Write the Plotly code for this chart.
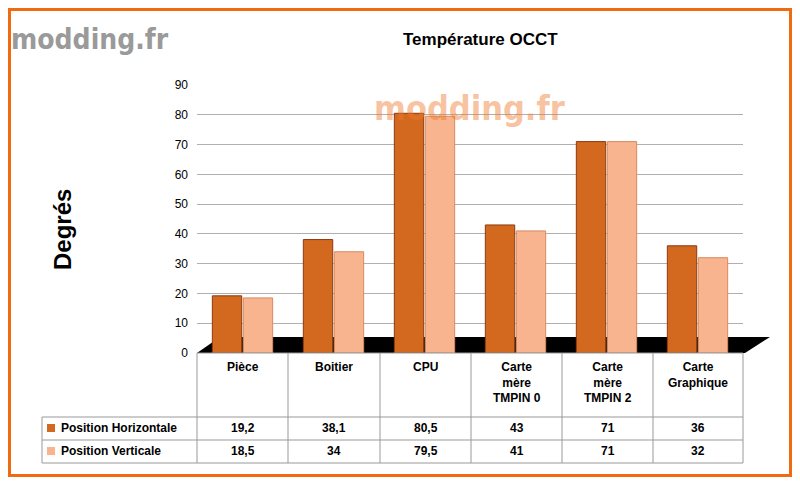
import plotly.graph_objects as go

categories = ["Pièce", "Boitier", "CPU", "Carte<br>mère<br>TMPIN 0", "Carte<br>mère<br>TMPIN 2", "Carte<br>Graphique"]
horizontale = [19.2, 38.1, 80.5, 43, 71, 36]
verticale = [18.5, 34, 79.5, 41, 71, 32]
horizontale_txt = ["19,2", "38,1", "80,5", "43", "71", "36"]
verticale_txt = ["18,5", "34", "79,5", "41", "71", "32"]
series_names = ["Position Horizontale", "Position Verticale"]
colors = ["#D2691E", "#F7B48E"]

# page body adds an 8px margin, so work in a figure shifted by 8px
OFF = 8
W, H = 800 - OFF * 2, 485 - OFF * 2
L, R, T, B = 197 - OFF, 743 - OFF, 85 - OFF, 353 - OFF

def px(x):
    return (x - OFF - L) / (R - L)

def py(y):
    return (B - (y - OFF)) / (B - T)

fig = go.Figure()
for name, vals, col, edge in zip(series_names, [horizontale, verticale], colors, ["#8B3A10", "#D98A60"]):
    fig.add_trace(go.Bar(x=categories, y=vals, name=name, showlegend=False,
                         marker=dict(color=col, line=dict(color=edge, width=1))))

shapes = []
shapes.append(dict(type="path", xref="paper", yref="paper",
                   path=f"M {px(197)},{py(353)} L {px(745)},{py(353)} L {px(770)},{py(337)} L {px(220)},{py(337)} Z",
                   fillcolor="black", line=dict(width=0), layer="below"))
for y in [353, 417, 440, 463]:
    x0 = 197 if y == 353 else 42
    shapes.append(dict(type="line", xref="paper", yref="paper", x0=px(x0), x1=px(743), y0=py(y), y1=py(y),
                       line=dict(color="#999999", width=1)))
for x in [197, 288, 380, 471, 562, 653, 743]:
    shapes.append(dict(type="line", xref="paper", yref="paper", x0=px(x), x1=px(x), y0=py(353), y1=py(463),
                       line=dict(color="#999999", width=1)))
shapes.append(dict(type="line", xref="paper", yref="paper", x0=px(42), x1=px(42), y0=py(417), y1=py(463),
                   line=dict(color="#999999", width=1)))
for i, col in enumerate(colors):
    yc = 428 + i * 23
    shapes.append(dict(type="rect", xref="paper", yref="paper", x0=px(47), x1=px(55), y0=py(yc - 4), y1=py(yc + 4),
                       fillcolor=col, line=dict(width=0)))
shapes.append(dict(type="rect", xref="paper", yref="paper", x0=px(9), x1=px(791), y0=py(9), y1=py(476),
                   line=dict(color="#F26A10", width=4)))

ann = []
centers = [242.5, 334, 425.5, 516.5, 607.5, 698]
for c, cat in zip(centers, categories):
    ann.append(dict(x=px(c), y=py(358), xref="paper", yref="paper", text=f"<b>{cat}</b>", showarrow=False,
                    xanchor="center", yanchor="top", font=dict(size=12, color="black")))
for i, (name, txts) in enumerate(zip(series_names, [horizontale_txt, verticale_txt])):
    yc = 428 + i * 23
    ann.append(dict(x=px(59), y=py(yc), xref="paper", yref="paper", text=f"<b>{name}</b>", showarrow=False,
                    xanchor="left", yanchor="middle", font=dict(size=12, color="black")))
    for c, t in zip(centers, txts):
        ann.append(dict(x=px(c), y=py(yc), xref="paper", yref="paper", text=f"<b>{t}</b>", showarrow=False,
                        xanchor="center", yanchor="middle", font=dict(size=12, color="black")))
ann.append(dict(x=px(480), y=py(40), xref="paper", yref="paper", text="<b>Température OCCT</b>", showarrow=False,
                xanchor="center", yanchor="middle", font=dict(size=17, color="black")))
ann.append(dict(x=px(62), y=py(230), xref="paper", yref="paper", text="<b>Degrés</b>", showarrow=False, textangle=-90,
                xanchor="center", yanchor="middle", font=dict(size=24, color="black")))
ann.append(dict(x=px(90), y=py(40), xref="paper", yref="paper", text="<b>modding.fr</b>", showarrow=False,
                xanchor="center", yanchor="middle", font=dict(size=28, color="#9a9a9a", family="DejaVu Sans Condensed")))
ann.append(dict(x=px(470), y=py(108), xref="paper", yref="paper", text="<b>modding.fr</b>", showarrow=False,
                xanchor="center", yanchor="middle",
                font=dict(size=34, color="rgba(240,120,40,0.45)", family="DejaVu Sans Condensed")))

fig.update_layout(
    width=W, height=H, paper_bgcolor="white", plot_bgcolor="white",
    margin=dict(l=L, r=W - R, t=T, b=H - B),
    barmode="group", bargap=0.32, bargroupgap=0.05,
    font=dict(family="Arial, Liberation Sans", size=12, color="black"),
    xaxis=dict(showticklabels=False, showgrid=False, zeroline=False),
    yaxis=dict(range=[0, 90], dtick=10, gridcolor="#b0b0b0", showline=False, zeroline=False,
               tickfont=dict(size=12, color="black"), ticks="", ticklabelstandoff=8),
    shapes=shapes, annotations=ann,
)
fig.write_html("out.html")
